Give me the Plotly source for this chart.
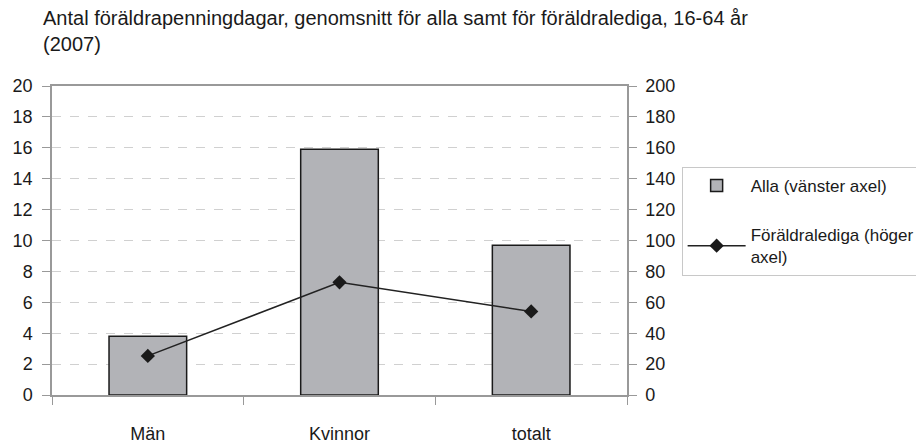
import plotly.graph_objects as go

# kategorier och värden
kategorier = ['Män', 'Kvinnor', 'totalt']
alla = [3.8, 15.9, 9.7]              # vänster axel
foraldralediga = [25.3, 72.9, 54.1]  # höger axel

titel = 'Antal föräldrapenningdagar, genomsnitt för alla samt för föräldralediga, 16-64 år<br>(2007)'

fig = go.Figure()

# staplar
fig.add_trace(go.Bar(
    x=kategorier,
    y=alla,
    name='Alla (vänster axel)',
    legendgroup='a',
    marker=dict(color='#b2b3b7', line=dict(color='#1a1a1a', width=1.5)),
    width=0.405,
))

# linje med romber
fig.add_trace(go.Scatter(
    x=kategorier,
    y=foraldralediga,
    name='Föräldralediga (höger<br>axel)',
    legendgroup='b',
    mode='lines+markers',
    line=dict(color='#222222', width=1.5),
    marker=dict(symbol='diamond', size=11, color='#1a1a1a'),
    yaxis='y2',
))

font = dict(family='Liberation Sans, Arial, sans-serif', size=18, color='#1a1a1a')

# sidan har 8px marginal i body, därför 916x435
fig.update_layout(
    width=916,
    height=435,
    margin=dict(l=44, r=297, t=78, b=48, autoexpand=False),
    paper_bgcolor='white',
    plot_bgcolor='white',
    font=font,
    title=dict(text=titel, x=35 / 916, xanchor='left', y=0.96, yanchor='top',
               font=dict(size=20, color='#1a1a1a')),
    showlegend=True,
    legend=dict(
        x=1.095, y=0.738, xanchor='left', yanchor='top',
        bordercolor='#c8c8c8', borderwidth=1,
        font=dict(size=17),
        traceorder='grouped',
        tracegroupgap=24,
        itemwidth=58,
    ),
    xaxis=dict(
        tickson='boundaries',
        ticks='outside', ticklen=8, tickcolor='#999999',
        showline=True, linecolor='#999999', linewidth=1.5,
        mirror=True,
        showgrid=False,
        ticklabelstandoff=22,
    ),
    yaxis=dict(
        range=[0, 20], dtick=2,
        ticks='outside', ticklen=8, tickcolor='#999999',
        showline=True, linecolor='#999999', linewidth=1.5,
        gridcolor='#d0d0d0', griddash='dash', gridwidth=1,
        zeroline=False,
        ticklabelstandoff=6,
    ),
    yaxis2=dict(
        range=[0, 200], dtick=20,
        overlaying='y', side='right',
        ticks='outside', ticklen=8, tickcolor='#999999',
        showline=True, linecolor='#999999', linewidth=1.5,
        showgrid=False, zeroline=False,
        ticklabelstandoff=5,
    ),
)

fig.write_html('out.html')
